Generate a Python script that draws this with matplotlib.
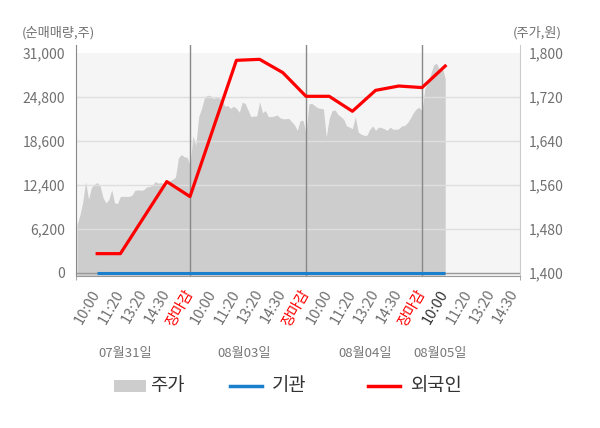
import matplotlib
matplotlib.use("Agg")
import matplotlib.pyplot as plt
from matplotlib.patches import Rectangle
import numpy as np

plt.rcParams['font.family'] = ['Noto Sans CJK KR', 'DejaVu Sans']

# x tick labels (categorical time axis, 5 ticks per trading day)
tick_labels = ["10:00", "11:20", "13:20", "14:30", "장마감",
               "10:00", "11:20", "13:20", "14:30", "장마감",
               "10:00", "11:20", "13:20", "14:30", "장마감",
               "10:00", "11:20", "13:20", "14:30"]
close_ticks = [4, 9, 14]
dates = ["07월31일", "08월03일", "08월04일", "08월05일"]

# stock price (won), 40 samples per full day
price_day1 = [1487, 1504, 1528, 1566, 1534, 1555, 1561, 1564, 1558, 1537,
              1527, 1533, 1551, 1527, 1526, 1539, 1539, 1539, 1539, 1541,
              1550, 1551, 1550, 1551, 1556, 1557, 1559, 1566, 1563, 1564,
              1562, 1565, 1567, 1570, 1574, 1609, 1615, 1611, 1610, 1595]
price_day2 = [1649, 1632, 1684, 1699, 1719, 1723, 1722, 1717, 1719, 1718,
              1714, 1703, 1704, 1699, 1703, 1699, 1692, 1710, 1708, 1696,
              1684, 1685, 1685, 1711, 1691, 1695, 1684, 1684, 1685, 1687,
              1682, 1680, 1680, 1681, 1675, 1669, 1659, 1677, 1677, 1653]
price_day3 = [1707, 1708, 1704, 1700, 1699, 1698, 1647, 1681, 1695, 1696,
              1688, 1684, 1679, 1667, 1665, 1662, 1684, 1656, 1652, 1650,
              1650, 1661, 1667, 1659, 1665, 1664, 1662, 1659, 1665, 1661,
              1661, 1662, 1667, 1668, 1673, 1681, 1691, 1698, 1701, 1694]
price_day4 = [1735, 1746, 1761, 1778, 1781, 1770, 1773, 1753]

# net buying (shares)
foreign_x = [0, 1, 3, 4, 6, 7, 8, 9, 10, 11, 12, 13, 14, 15]
foreign = [2700, 2700, 12850, 10740, 29940, 30080, 28210, 24870, 24870,
           22760, 25710, 26320, 26100, 29140]
inst_x = list(range(16))
inst = [0] * 16

price = price_day1 + price_day2 + price_day3 + price_day4
price_x = -1 + 0.125 * (np.arange(len(price)) + 1)

fig = plt.figure(figsize=(6, 4.28), dpi=100)
ax = fig.add_axes([76 / 600, 1 - 275.5 / 428, 444 / 600, 230.5 / 428])
ax2 = ax.twinx()
ax.set_zorder(ax2.get_zorder() + 1)
ax.patch.set_visible(False)

# price area on the right axis
ax2.axhspan(1380, 1800, color='#f5f5f5', zorder=0, lw=0)
ax2.fill_between(price_x, 1380, price, color='#cdcdcd', lw=0, zorder=1)
ax2.set_ylim(1395.1, 1814.2)
ax2.set_yticks(np.arange(1400, 1801, 80))
ax2.set_yticklabels([f"{v:,}" for v in range(1400, 1801, 80)])
ax2.tick_params(axis='y', length=0, pad=6, labelsize=10, labelcolor='#707070')
for s in ax2.spines.values():
    s.set_visible(False)

# net buying lines on the left axis
xmin, xmax = -0.914, 18.224
ax.set_xlim(xmin, xmax)
ax.set_ylim(-380, 32100)
for g in [6200, 12400, 18600, 24800]:
    ax.axhline(g, color='#dedede', lw=1, zorder=1)
ax.axhline(0, color='#999999', lw=1, zorder=1)
for c in close_ticks:
    ax.axvline(c, color='#888888', lw=1, zorder=2)
ax.plot(inst_x, inst, color='#1a7fcc', lw=2.2, zorder=3, solid_capstyle='butt')
ax.plot(foreign_x, foreign, color='#ff0000', lw=2.3, zorder=4)

yt = [0, 6200, 12400, 18600, 24800, 31000]
ax.set_yticks(yt)
ax.set_yticklabels([f"{v:,}" for v in yt])
ax.tick_params(axis='y', length=0, pad=8, labelsize=10, labelcolor='#707070')

ax.set_xticks(range(len(tick_labels)))
ax.set_xticklabels(tick_labels)
ax.tick_params(axis='x', which='major', length=0, pad=11, labelsize=10.5)
ax.set_xticks([xmin] + close_ticks + [xmax], minor=True)
ax.tick_params(axis='x', which='minor', length=3, color='#999999', direction='out')
for i, lab in enumerate(ax.get_xticklabels()):
    lab.set_rotation(60)
    lab.set_ha('right')
    lab.set_va('center')
    lab.set_rotation_mode('anchor')
    if i in close_ticks:
        lab.set_color('#ff0000')
    elif i == 15:
        lab.set_color('#333333')
    else:
        lab.set_color('#707070')

ax.spines['top'].set_visible(False)
ax.spines['left'].set_color('#888888')
ax.spines['right'].set_color('#cccccc')
ax.spines['bottom'].set_color('#999999')

# overlay for titles, dates and legend (pixel coordinates)
ov = fig.add_axes([0, 0, 1, 1])
ov.set_xlim(0, 600)
ov.set_ylim(428, 0)
ov.axis('off')
ov.text(22, 33, "(순매매량,주)", ha='left', va='center', fontsize=9.5, color='#707070')
ov.text(562, 33, "(주가,원)", ha='right', va='center', fontsize=9.5, color='#707070')
for xc, d in zip([124.7, 244.5, 365.5, 440.5], dates):
    ov.text(xc, 353, d, ha='center', va='center', fontsize=9.5, color='#777777')

ov.add_patch(Rectangle((114, 380), 32, 12, color='#cdcdcd', lw=0))
ov.text(150, 386, "주가", ha='left', va='center', fontsize=13.5, color='#333333')
ov.plot([230, 262], [386, 386], color='#1a7fcc', lw=2.5)
ov.text(272, 386, "기관", ha='left', va='center', fontsize=13.5, color='#333333')
ov.plot([368, 400], [386, 386], color='#ff0000', lw=2.5)
ov.text(411, 386, "외국인", ha='left', va='center', fontsize=13.5, color='#333333')

fig.savefig("out.png", dpi=100)
